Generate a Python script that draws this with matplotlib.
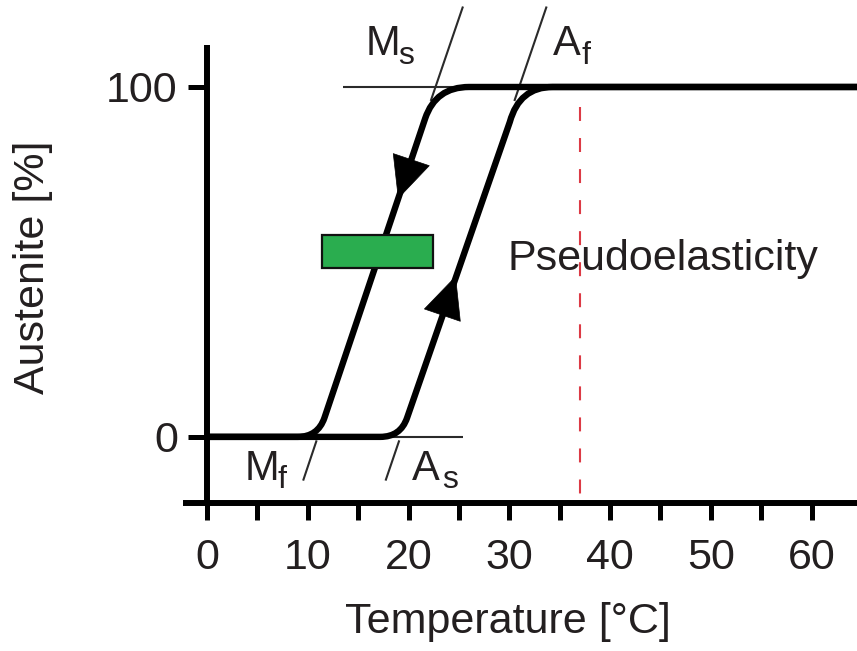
import matplotlib
matplotlib.use("Agg")
import matplotlib.pyplot as plt
from matplotlib.path import Path
from matplotlib.patches import PathPatch, Rectangle, FancyArrowPatch

plt.rcParams['font.family'] = ['Liberation Sans', 'DejaVu Sans']
TXT = '#231f20'

# ---------------- data ----------------
x_major = [0, 10, 20, 30, 40, 50, 60]
x_minor = [5, 15, 25, 35, 45, 55]
y_ticks = [0, 100]

# cooling branch (austenite -> martensite), key points of the curve
cool_T = [0.0, 9.0, 11.0, 11.65, 21.65, 22.7, 26.0, 64.5]
cool_A = [0.0, 0.0, 0.0, 5.4, 91.0, 100.0, 100.0, 100.0]
# heating branch (martensite -> austenite)
heat_T = [0.0, 17.2, 19.2, 19.85, 30.05, 31.0, 34.3, 64.5]
heat_A = [0.0, 0.0, 0.0, 5.4, 90.0, 100.0, 100.0, 100.0]

# arrows on the branches (tail -> tip)
cool_arrow_T = [20.36, 18.96]
cool_arrow_A = [80.0, 68.0]
heat_arrow_T = [23.26, 24.69]
heat_arrow_A = [34.0, 46.0]

# transformation temperature marker lines
Ms_T = [22.2, 25.4]; Ms_A = [96.0, 123.0]
Af_T = [30.5, 33.7]; Af_A = [96.0, 123.0]
Mf_T = [10.88, 9.54]; Mf_A = [-1.0, -12.5]
As_T = [19.08, 17.72]; As_A = [-1.0, -12.5]

top_ref_T = [13.5, 36.0]; top_ref_A = [100.0, 100.0]
bot_ref_T = [0.0, 25.4]; bot_ref_A = [0.0, 0.0]

body_T = [37.0, 37.0]; body_A = [94.3, -17.1]

box_T = [11.4, 22.4]; box_A = [48.3, 57.7]

# ---------------- figure ----------------
fig = plt.figure(figsize=(8.57, 6.51), dpi=100)
ax = fig.add_axes([183/857, 148/651, 674/857, 458/651])
ax.set_xlim(-2.38, 64.5)
ax.set_ylim(-18.9, 112)

for s in ['top', 'right']:
    ax.spines[s].set_visible(False)
ax.spines['left'].set_position(('data', 0))
for s in ['left', 'bottom']:
    ax.spines[s].set_linewidth(4.3)
    ax.spines[s].set_color('black')
    ax.spines[s].set_capstyle('butt')

ax.set_xticks(x_major)
ax.set_xticks(x_minor, minor=True)
ax.set_yticks(y_ticks)
ax.set_xticklabels([str(v) for v in x_major])
ax.set_yticklabels([str(v) for v in y_ticks])
ax.tick_params(axis='x', which='both', direction='out', length=12, width=3.6,
               pad=13, labelsize=31, labelcolor=TXT)
ax.tick_params(axis='y', which='both', direction='out', length=14, width=3.6,
               pad=7, labelsize=31, labelcolor=TXT)

# thin reference lines
thin = dict(color='#2a2a2a', lw=1.5, solid_capstyle='butt', zorder=2)
ax.plot(top_ref_T, top_ref_A, **thin)
ax.plot(bot_ref_T, bot_ref_A, **thin, clip_on=False)
for T, A in [(Ms_T, Ms_A), (Af_T, Af_A), (Mf_T, Mf_A), (As_T, As_A)]:
    ax.plot(T, A, clip_on=False, **thin)

# body temperature dashed line
ax.plot(body_T, body_A, color='#dc3a45', lw=1.5, dashes=(6.7, 8.2), zorder=1)

# hysteresis branches
codes = [Path.MOVETO, Path.LINETO, Path.CURVE3, Path.CURVE3,
         Path.LINETO, Path.CURVE3, Path.CURVE3, Path.LINETO]
for T, A in [(cool_T, cool_A), (heat_T, heat_A)]:
    p = Path(list(zip(T, A)), codes)
    ax.add_patch(PathPatch(p, fill=False, lw=4.6, ec='black', capstyle='butt',
                           joinstyle='round', zorder=3, clip_on=False))

for T, A in [(cool_arrow_T, cool_arrow_A), (heat_arrow_T, heat_arrow_A)]:
    ar = FancyArrowPatch(posA=(T[0], A[0]), posB=(T[1], A[1]),
                         arrowstyle='-|>,head_length=0.45,head_width=0.21',
                         mutation_scale=65, color='black', lw=0.5,
                         shrinkA=0, shrinkB=0, zorder=4)
    ax.add_patch(ar)

# green box
ax.add_patch(Rectangle((box_T[0], box_A[0]), box_T[1] - box_T[0], box_A[1] - box_A[0],
                       fc='#2aad4f', ec='#111111', lw=1.6, zorder=5))

# labels
fs = 30
sub = 23
ax.text(15.7, 109.0, 'M', fontsize=fs, color=TXT, ha='left', va='baseline', clip_on=False)
ax.text(18.95, 106.6, 's', fontsize=sub, color=TXT, ha='left', va='baseline', clip_on=False)
ax.text(34.3, 109.0, 'A', fontsize=fs, color=TXT, ha='left', va='baseline', clip_on=False)
ax.text(37.2, 106.6, 'f', fontsize=sub, color=TXT, ha='left', va='baseline', clip_on=False)
ax.text(3.77, -12.3, 'M', fontsize=fs, color=TXT, ha='left', va='baseline', clip_on=False)
ax.text(7.04, -14.6, 'f', fontsize=sub, color=TXT, ha='left', va='baseline', clip_on=False)
ax.text(20.34, -12.3, 'A', fontsize=fs, color=TXT, ha='left', va='baseline', clip_on=False)
ax.text(23.3, -14.6, 's', fontsize=sub, color=TXT, ha='left', va='baseline', clip_on=False)

ax.text(29.8, 47.7, 'Pseudoelasticity', fontsize=31, color=TXT, ha='left', va='baseline')

fig.text(508/857, (651-633)/651, 'Temperature [°C]', fontsize=31, color=TXT,
         ha='center', va='baseline')
fig.text(33/857, (651-267)/651, 'Austenite [%]', fontsize=31, color=TXT,
         ha='center', va='center', rotation=90)

fig.savefig('out.png', dpi=100)
